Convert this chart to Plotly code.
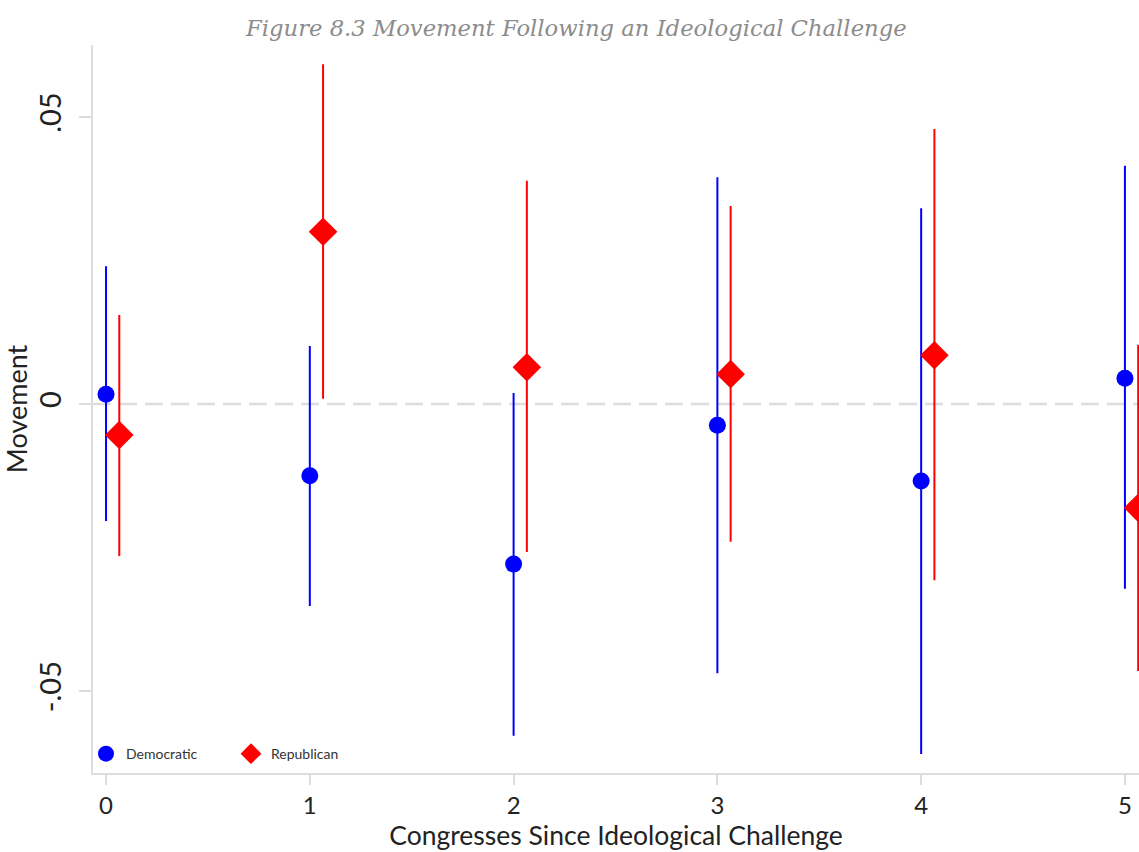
import plotly.graph_objects as go

# Congresses since the ideological challenge
congresses = [0, 1, 2, 3, 4, 5]

# Democratic estimates with 95% interval bounds
dem_est = [0.0017, -0.0125, -0.0279, -0.0037, -0.0134, 0.0045]
dem_hi = [0.0240, 0.0101, 0.0019, 0.0395, 0.0341, 0.0415]
dem_lo = [-0.0204, -0.0352, -0.0578, -0.0469, -0.0610, -0.0322]

# Republican estimates with 95% interval bounds
rep_est = [-0.0054, 0.0300, 0.0064, 0.0052, 0.0085, -0.0181]
rep_hi = [0.0155, 0.0592, 0.0389, 0.0345, 0.0479, 0.0103]
rep_lo = [-0.0265, 0.0009, -0.0258, -0.0240, -0.0307, -0.0465]

ytick_vals = [-0.05, 0, 0.05]
ytick_text = ["-.05", "0", ".05"]

rep_shift = 0.065
axis_font = "Lato"

fig = go.Figure()

fig.add_trace(go.Scatter(
    x=congresses,
    y=dem_est,
    mode="markers",
    name="Democratic",
    marker=dict(symbol="circle", size=17, color="#0000ff"),
    error_y=dict(
        type="data",
        symmetric=False,
        array=[h - e for h, e in zip(dem_hi, dem_est)],
        arrayminus=[e - l for e, l in zip(dem_est, dem_lo)],
        color="#0000ff",
        thickness=2,
        width=0,
    ),
))

fig.add_trace(go.Scatter(
    x=[c + rep_shift for c in congresses],
    y=rep_est,
    mode="markers",
    name="Republican",
    marker=dict(symbol="diamond", size=22, color="#ff0000"),
    error_y=dict(
        type="data",
        symmetric=False,
        array=[h - e for h, e in zip(rep_hi, rep_est)],
        arrayminus=[e - l for e, l in zip(rep_est, rep_lo)],
        color="#ff0000",
        thickness=2,
        width=0,
    ),
))

# dashed reference line at zero movement
fig.add_shape(
    type="line", xref="paper", x0=0, x1=1, yref="y", y0=0, y1=0,
    line=dict(color="#dddddd", width=2.5, dash="18px,8px"),
    layer="below",
)

fig.update_layout(
    width=1139,
    height=852,
    margin=dict(l=93, r=0, t=45, b=79),
    paper_bgcolor="white",
    plot_bgcolor="white",
    title=dict(
        text="<i>Figure 8.3 Movement Following an Ideological Challenge</i>",
        x=0.506, xanchor="center", y=0.967, yanchor="middle",
        font=dict(family="DejaVu Serif", size=22.7, color="#8c8c8c"),
    ),
    showlegend=True,
    legend=dict(
        orientation="h",
        x=-0.0067, xanchor="left",
        y=0.004, yanchor="bottom",
        bgcolor="rgba(0,0,0,0)",
        font=dict(family=axis_font, size=14, color="#333333"),
        entrywidth=100,
        itemsizing="trace",
    ),
    xaxis=dict(
        range=[-0.064, 5.069],
        tickvals=congresses,
        ticktext=[str(c) for c in congresses],
        showgrid=False,
        zeroline=False,
        showline=True,
        linecolor="#dddddd",
        linewidth=2,
        ticks="outside",
        ticklen=10,
        tickcolor="#dddddd",
        tickwidth=1.5,
        ticklabelstandoff=0,
        tickfont=dict(family=axis_font, size=24, color="#222222"),
        title=dict(
            text="Congresses Since Ideological Challenge",
            font=dict(family=axis_font, size=26.5, color="#222222"),
            standoff=0,
        ),
    ),
    yaxis=dict(
        range=[-0.06429, 0.06254],
        tickvals=ytick_vals,
        ticktext=ytick_text,
        tickangle=-90,
        showgrid=False,
        zeroline=False,
        showline=True,
        linecolor="#dddddd",
        linewidth=2,
        ticks="outside",
        ticklen=12,
        tickcolor="#dddddd",
        tickwidth=1.5,
        ticklabelstandoff=6,
        tickfont=dict(family=axis_font, size=29, color="#222222"),
        title=dict(
            text="Movement",
            font=dict(family=axis_font, size=27, color="#222222"),
            standoff=14,
        ),
    ),
)

fig.write_html("out.html")
